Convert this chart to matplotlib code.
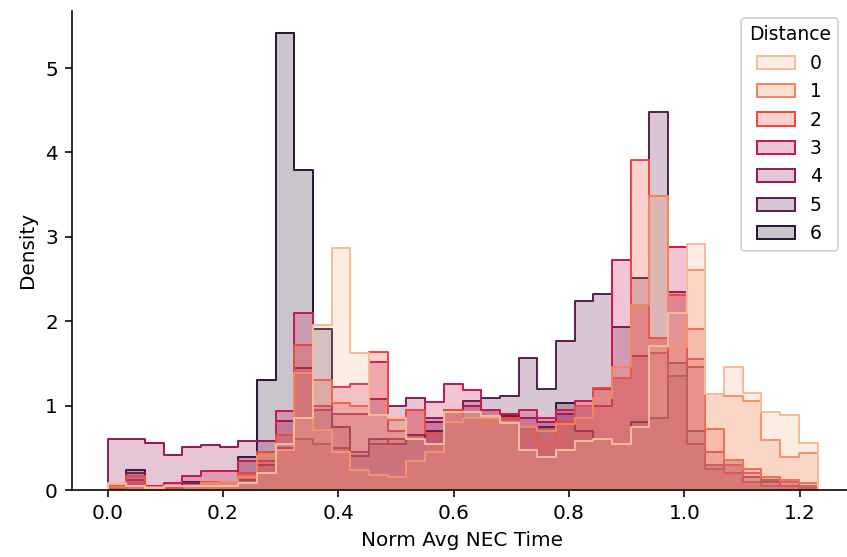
import numpy as np
import pandas as pd
import matplotlib
matplotlib.use("Agg")
import matplotlib.pyplot as plt
import seaborn as sns

# 38 bins from 0 to ~1.231, density values per Distance level
n_bins = 38
x_max = 1.231
edges = np.linspace(0, x_max, n_bins + 1)
centers = (edges[:-1] + edges[1:]) / 2

d0 = [0.08, 0.05, 0.02, 0.05, 0.05, 0.05, 0.05, 0.08, 0.20, 0.55, 0.85, 1.95, 2.87, 1.62, 0.89, 0.85, 0.60, 0.55, 0.93,
      0.93, 0.88, 0.79, 0.47, 0.39, 0.47, 0.58, 0.61, 0.55, 0.75, 1.71, 2.10, 2.92, 1.14, 1.46, 1.15, 0.93, 0.89, 0.56]
d1 = [0.08, 0.05, 0.03, 0.05, 0.05, 0.08, 0.10, 0.15, 0.40, 0.47, 1.39, 0.71, 0.45, 0.24, 0.18, 0.15, 0.34, 0.45, 0.80,
      0.85, 0.85, 0.80, 0.75, 0.70, 0.78, 0.85, 1.09, 1.46, 2.19, 3.48, 1.70, 2.61, 1.14, 1.11, 1.06, 0.59, 0.39, 0.44]
d2 = [0.03, 0.16, 0.03, 0.05, 0.05, 0.10, 0.10, 0.20, 0.45, 0.65, 1.72, 1.30, 1.03, 0.99, 1.64, 0.83, 0.95, 0.67, 0.95,
      0.85, 0.80, 0.85, 0.75, 0.55, 0.80, 1.00, 1.21, 1.33, 3.91, 1.80, 2.31, 1.91, 0.72, 0.35, 0.25, 0.15, 0.12, 0.08]
d3 = [0.05, 0.12, 0.05, 0.08, 0.17, 0.22, 0.22, 0.34, 0.34, 0.94, 2.10, 1.00, 1.22, 1.26, 1.52, 0.70, 0.95, 1.04, 1.26,
      1.18, 0.95, 0.90, 0.95, 0.85, 0.95, 1.05, 1.20, 2.72, 2.19, 1.80, 2.88, 1.55, 0.45, 0.30, 0.20, 0.15, 0.10, 0.05]
d4 = [0.60, 0.60, 0.56, 0.41, 0.51, 0.53, 0.51, 0.58, 0.58, 0.82, 1.44, 0.95, 0.90, 0.90, 1.08, 1.00, 1.09, 0.85, 0.95,
      1.00, 0.95, 0.90, 0.85, 0.80, 0.90, 1.00, 1.00, 1.33, 1.59, 1.62, 2.35, 1.46, 0.30, 0.20, 0.10, 0.05, 0.05, 0.02]
d5 = [0.02, 0.20, 0.05, 0.02, 0.08, 0.05, 0.05, 0.12, 0.30, 0.50, 0.60, 0.55, 0.50, 0.45, 0.55, 0.60, 0.65, 0.80, 0.95,
      1.05, 1.09, 1.11, 1.57, 1.20, 1.77, 2.24, 2.32, 1.93, 2.51, 4.48, 1.35, 0.55, 0.25, 0.30, 0.10, 0.12, 0.05, 0.03]
d6 = [0.05, 0.24, 0.05, 0.02, 0.10, 0.05, 0.05, 0.39, 1.30, 5.41, 3.79, 1.91, 0.75, 0.40, 0.60, 0.55, 0.60, 0.70, 0.80,
      0.85, 0.85, 0.88, 0.75, 0.75, 1.03, 0.70, 0.60, 0.55, 0.80, 0.85, 1.50, 0.70, 0.30, 0.35, 0.15, 0.10, 0.10, 0.05]

levels = [0, 1, 2, 3, 4, 5, 6]
series = [d0, d1, d2, d3, d4, d5, d6]

df = pd.DataFrame({
    "Norm Avg NEC Time": np.tile(centers, len(levels)),
    "w": np.concatenate(series),
    "Distance": np.repeat(levels, len(centers)),
})

fig = plt.figure(figsize=(847 / 144, 557 / 144), dpi=144)
ax = fig.add_axes([72 / 847, 67 / 557, 781 / 847, 479.4 / 557])

sns.histplot(data=df, x="Norm Avg NEC Time", weights="w", hue="Distance",
             bins=n_bins, binrange=(0, x_max),
             element="step", palette=sns.color_palette("rocket_r", 7), ax=ax)
ax.set_ylabel("Density")
sns.despine(ax=ax)
# legend a touch smaller and tucked into the upper right like the original
sns.move_legend(ax, "upper right", bbox_to_anchor=(0.981, 0.985), borderaxespad=0,
                fontsize=9.4, title_fontsize=9.4)

fig.savefig("out.png", dpi=144)
